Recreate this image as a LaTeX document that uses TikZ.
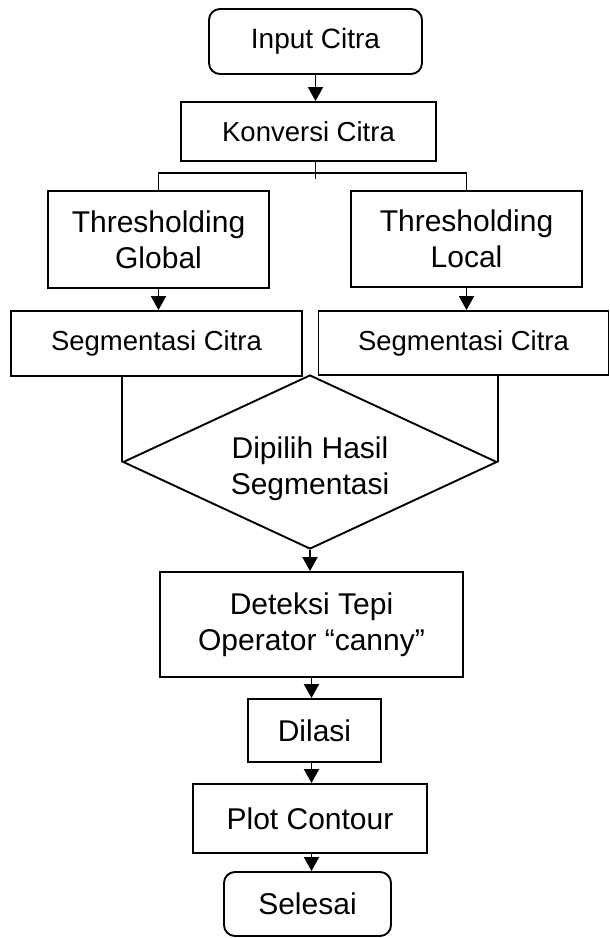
\documentclass[tikz,border=0pt]{standalone}
\usepackage{fontspec}
\setmainfont{Liberation Sans}
\usetikzlibrary{shapes.geometric, arrows.meta}

\tikzset{kotak/.style = {draw, rectangle, line width = 1.9pt, align = center,
                         inner sep = 0pt, font = \fontsize{30}{36}\selectfont},
         kotakkecil/.style = {kotak, font = \fontsize{27.5}{33}\selectfont},
         terminal/.style = {kotak, rounded corners = 11pt},
         keputusan/.style = {kotak, diamond, shape aspect = 2.15},
         garis/.style = {line width = 1.9pt},
         panah/.style = {garis, -{Triangle[length = 14pt, width = 15pt]}}
        }

\begin{document}
\begin{tikzpicture}[x = 1pt, y = -1pt]
  \useasboundingbox (0,0) rectangle (610,938);

  \node[terminal, font = \fontsize{28}{33}\selectfont,
        minimum width = 213pt, minimum height = 65pt] (input) at (315.5,41.5) {Input Citra};
  \node[kotakkecil, minimum width = 255pt, minimum height = 59pt] (konversi) at (308.5,131.5) {Konversi Citra};

  \node[kotak, minimum width = 221pt, minimum height = 97pt] (tglobal) at (158.5,239.5) {Thresholding\\Global};
  \node[kotak, minimum width = 231pt, minimum height = 96pt] (tlocal) at (466.5,239) {Thresholding\\Local};

  \node[kotakkecil, minimum width = 291pt, minimum height = 65pt] (segglobal) at (156.5,343.5) {Segmentasi Citra};
  \node[kotakkecil, minimum width = 290pt, minimum height = 64pt] (seglocal) at (463.5,343) {Segmentasi Citra};

  \node[keputusan, minimum width = 374pt, minimum height = 174pt] (pilih) at (310,462) {\rule{0pt}{35pt}Dipilih Hasil\\Segmentasi};

  \node[kotak, minimum width = 303pt, minimum height = 105pt] (deteksi) at (311.5,624.5) {Deteksi Tepi\\Operator “canny”};
  \node[kotak, minimum width = 133pt, minimum height = 63pt] (dilasi) at (314.5,730.5) {Dilasi};
  \node[kotak, minimum width = 234pt, minimum height = 69pt] (plot) at (310,818.5) {Plot Contour};
  \node[terminal, minimum width = 167pt, minimum height = 64pt] (selesai) at (307.5,904) {Selesai};

  \draw[panah] (input.south) -- (input.south |- konversi.north);
  \draw[garis] (konversi.south -| input.south) -- ++(0,17);
  \draw[garis] (tglobal.north) -- ++(0,-17) -| (tlocal.north);

  \draw[panah] (tglobal.south) -- (tglobal.south |- segglobal.north);
  \draw[panah] (tlocal.south) -- (tlocal.south |- seglocal.north);

  \draw[garis] (pilih.west |- segglobal.south) -- (pilih.west);
  \draw[garis] (pilih.east |- seglocal.south) -- (pilih.east);

  \draw[panah] (pilih.south) -- (pilih.south |- deteksi.north);
  \draw[panah] (deteksi.south) -- (deteksi.south |- dilasi.north);
  \draw[panah] (dilasi.south -| deteksi.south) -- (deteksi.south |- plot.north);
  \draw[panah] (plot.south -| deteksi.south) -- (deteksi.south |- selesai.north);
\end{tikzpicture}
\end{document}
